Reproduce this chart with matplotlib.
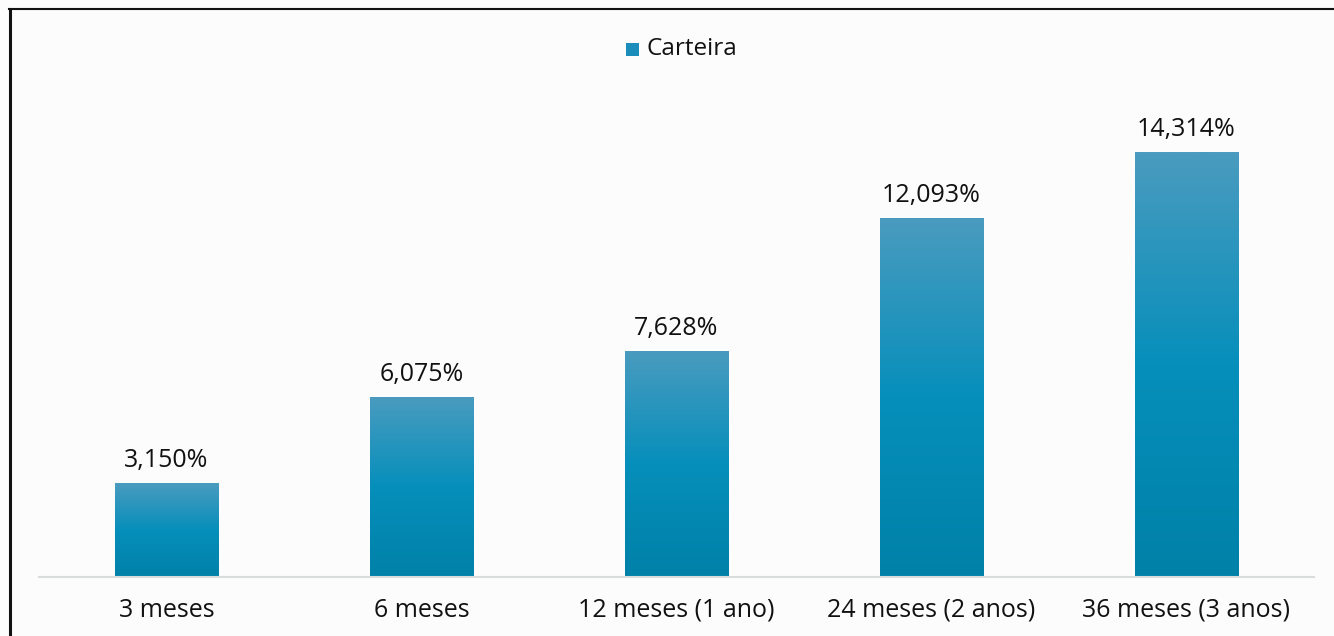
import numpy as np
import matplotlib.pyplot as plt
from matplotlib.colors import LinearSegmentedColormap
from matplotlib.lines import Line2D
from matplotlib.patches import Rectangle

categories = ['3 meses', '6 meses', '12 meses (1 ano)', '24 meses (2 anos)', '36 meses (3 anos)']
values = [3.150, 6.075, 7.628, 12.093, 14.314]
labels = ['3,150%', '6,075%', '7,628%', '12,093%', '14,314%']
series_name = 'Carteira'

plt.rcParams['font.family'] = ['Open Sans', 'DejaVu Sans']

W, H = 1334, 636
PX = 29.69  # pixels per percentage point
fig = plt.figure(figsize=(W / 100, H / 100), dpi=100)
fig.patch.set_facecolor('#fcfcfc')

# axes: baseline at y=577, x from 38 to 1313
ax = fig.add_axes([39 / W, (H - 577) / H, 1275 / W, 470 / H])
ax.set_facecolor('none')

grad = LinearSegmentedColormap.from_list('bar', ['#0081a8', '#068fbb', '#4a9bbf'])
gimg = np.linspace(0, 1, 256).reshape(-1, 1)
bw = 0.404
x = np.arange(len(categories))
bars = ax.bar(x, values, width=bw, color='none', edgecolor='none')
for b, v, lab in zip(bars, values, labels):
    x0 = b.get_x()
    im = ax.imshow(gimg, cmap=grad, aspect='auto', origin='lower',
                   extent=[x0, x0 + bw, 0, v], zorder=2)
    im.set_clip_path(b)
    ax.text(b.get_x() + bw / 2, v + 16 / PX, lab, ha='center', va='baseline',
            fontsize=18, color='#111111')

ax.set_xticks(x)
ax.set_xticklabels(categories, fontsize=18, color='#111111')
ax.tick_params(axis='x', length=0, pad=15)
ax.set_yticks([])
for s in ['top', 'right', 'left']:
    ax.spines[s].set_visible(False)
ax.spines['bottom'].set_color('#d9dddd')
ax.spines['bottom'].set_linewidth(1.5)
ax.set_xlim(-0.5, 4.5)
ax.set_ylim(0, 470 / PX)

# legend
fig.patches.append(Rectangle((626 / W, (H - 56) / H), 13 / W, 13 / H,
                             transform=fig.transFigure, facecolor='#1a8dba',
                             edgecolor='none'))
fig.text(646 / W, (H - 49) / H, series_name, fontsize=17.5, va='center',
         ha='left', color='#111111')

# outer border (left and top)
fig.add_artist(Line2D([10 / W, 10 / W], [0, (H - 8.5) / H], color='#111111',
                      lw=2.2, transform=fig.transFigure))
fig.add_artist(Line2D([9 / W, 1], [(H - 8.5) / H, (H - 8.5) / H], color='#111111',
                      lw=1.5, transform=fig.transFigure))

fig.savefig('out.png', dpi=100, facecolor=fig.get_facecolor())
